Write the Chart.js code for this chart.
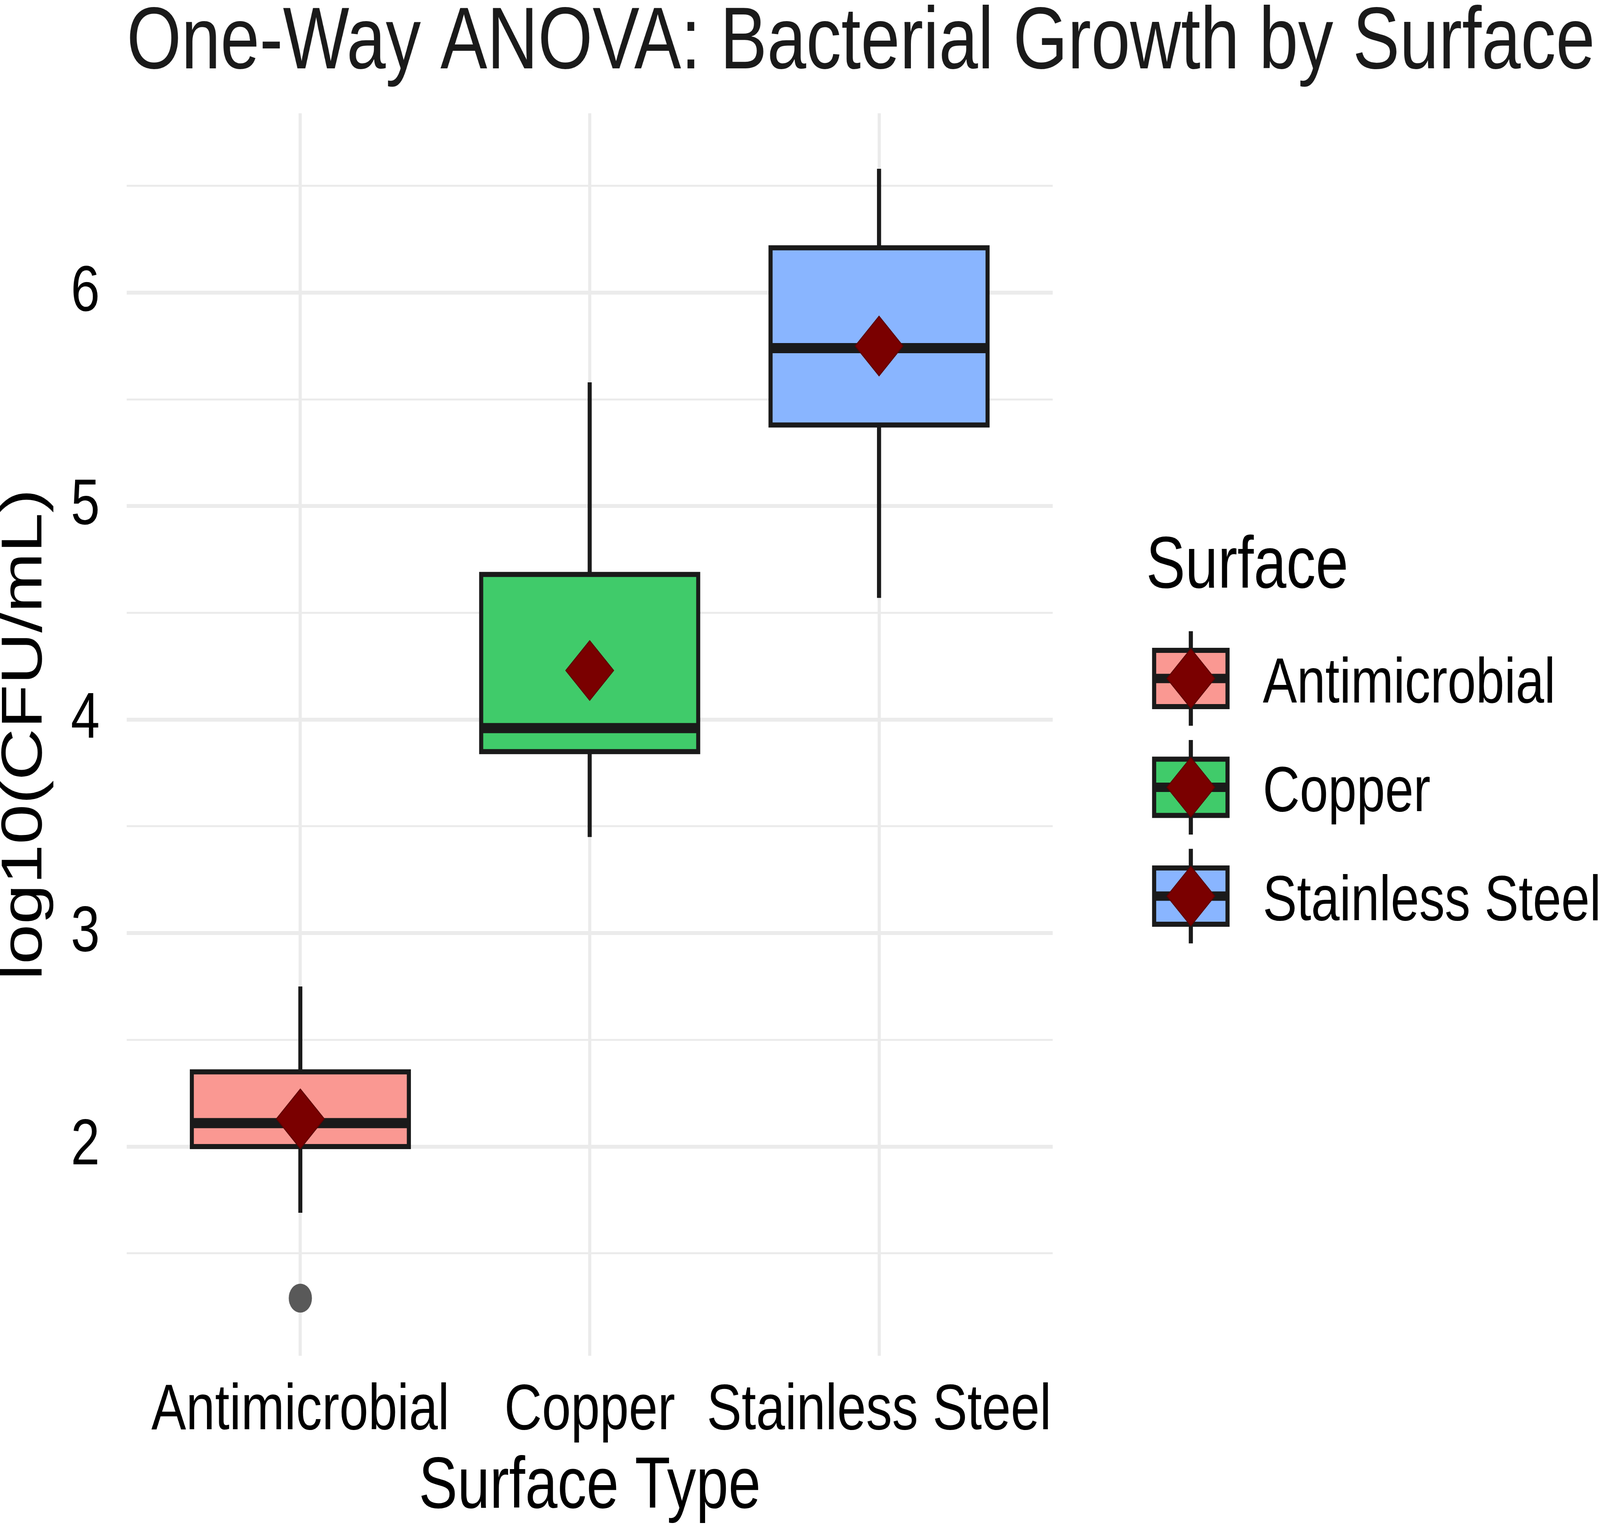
<!DOCTYPE html>
<html>
<head>
<meta charset="utf-8">
<title>One-Way ANOVA: Bacterial Growth by Surface</title>
<script src="https://cdn.jsdelivr.net/npm/chart.js@4.4.1/dist/chart.umd.min.js"></script>
<style>
  html, body { margin: 0; padding: 0; background: #ffffff; overflow: hidden; }
  #anovaChart {
    display: block;
    width: 100vw !important;
    height: 100vh !important;
  }
</style>
</head>
<body>
<canvas id="anovaChart" width="5101" height="3921"></canvas>
<script>
// 数据：三种表面的箱线图统计量
const categories = ['Antimicrobial', 'Copper', 'Stainless Steel'];
const whiskerLow = [1.69, 3.45, 4.57];
const q1Values = [2.00, 3.85, 5.38];
const medianValues = [2.11, 3.96, 5.74];
const q3Values = [2.35, 4.68, 6.21];
const whiskerHigh = [2.75, 5.58, 6.58];
const meanValues = [2.13, 4.23, 5.75];
const outlierCategories = ['Antimicrobial'];
const outlierValues = [1.29];

// 坐标轴刻度
const yTickValues = [1.5, 2, 2.5, 3, 3.5, 4, 4.5, 5, 5.5, 6, 6.5];
const yTickLabels = ['', '2', '', '3', '', '4', '', '5', '', '6', ''];

const fontFamily = '"Liberation Sans", Arial, Helvetica, sans-serif';
const fillColors = ['#FA9892', '#40CB6A', '#89B5FF'];
const lineColor = '#1a1a1a';
const meanColor = '#7A0000';
const BOX_WIDTH = 0.75;

Chart.defaults.font.family = fontFamily;

// 画一个菱形（均值标记，用于图例）
function drawDiamond(ctx, x, y, r) {
    ctx.beginPath();
    ctx.moveTo(x, y - r);
    ctx.lineTo(x + r, y);
    ctx.lineTo(x, y + r);
    ctx.lineTo(x - r, y);
    ctx.closePath();
    ctx.fillStyle = meanColor;
    ctx.fill();
    ctx.lineWidth = 3;
    ctx.strokeStyle = '#5E0000';
    ctx.stroke();
}

// 箱体、须线和中位数线
const boxplotPlugin = {
    id: 'boxplot',
    beforeDatasetsDraw(chart) {
        const { ctx } = chart;
        const xs = chart.scales.x;
        const ys = chart.scales.y;
        ctx.save();
        ctx.lineJoin = 'miter';
        ctx.lineCap = 'butt';
        categories.forEach((cat, i) => {
            const pos = i + 1;
            const cx = xs.getPixelForValue(pos);
            const left = xs.getPixelForValue(pos - BOX_WIDTH / 2);
            const right = xs.getPixelForValue(pos + BOX_WIDTH / 2);
            const top = ys.getPixelForValue(q3Values[i]);
            const bottom = ys.getPixelForValue(q1Values[i]);

            ctx.strokeStyle = lineColor;
            ctx.lineWidth = 13;
            ctx.beginPath();
            ctx.moveTo(cx, ys.getPixelForValue(whiskerHigh[i]));
            ctx.lineTo(cx, top);
            ctx.moveTo(cx, bottom);
            ctx.lineTo(cx, ys.getPixelForValue(whiskerLow[i]));
            ctx.stroke();

            ctx.fillStyle = fillColors[i];
            ctx.fillRect(left, top, right - left, bottom - top);
            ctx.strokeRect(left, top, right - left, bottom - top);

            const med = ys.getPixelForValue(medianValues[i]);
            ctx.lineWidth = 26;
            ctx.beginPath();
            ctx.moveTo(left, med);
            ctx.lineTo(right, med);
            ctx.stroke();
        });
        ctx.restore();
    }
};

// 标题和右侧图例
const legendPlugin = {
    id: 'surfaceLegend',
    afterDraw(chart) {
        const { ctx, chartArea } = chart;
        ctx.save();
        ctx.textAlign = 'left';
        ctx.textBaseline = 'alphabetic';

        ctx.fillStyle = '#1a1a1a';
        ctx.font = '224px ' + fontFamily;
        ctx.fillText('One-Way ANOVA: Bacterial Growth by Surface', chartArea.left, 175);

        ctx.fillStyle = '#000000';
        ctx.font = '187px ' + fontFamily;
        ctx.fillText('Surface', 3654, 1504);

        const keyX = 3796.5;
        const halfW = 117;
        const halfH = 72;
        categories.forEach((cat, i) => {
            const cy = 1736.5 + i * 278.5;
            ctx.strokeStyle = lineColor;
            ctx.lineCap = 'butt';
            ctx.lineWidth = 13;
            ctx.beginPath();
            ctx.moveTo(keyX, cy - 121);
            ctx.lineTo(keyX, cy + 121);
            ctx.stroke();
            ctx.fillStyle = fillColors[i];
            ctx.fillRect(keyX - halfW, cy - halfH, halfW * 2, halfH * 2);
            ctx.strokeRect(keyX - halfW, cy - halfH, halfW * 2, halfH * 2);
            ctx.lineWidth = 24;
            ctx.beginPath();
            ctx.moveTo(keyX - halfW, cy);
            ctx.lineTo(keyX + halfW, cy);
            ctx.stroke();
            drawDiamond(ctx, keyX, cy, 76);

            ctx.fillStyle = '#000000';
            ctx.font = '163px ' + fontFamily;
            ctx.fillText(cat, 4026, cy + 61);
        });
        ctx.restore();
    }
};

const chart = new Chart(document.getElementById('anovaChart').getContext('2d'), {
    type: 'scatter',
    data: {
        datasets: [
            {
                label: 'Mean',
                data: categories.map((c, i) => ({ x: i + 1, y: meanValues[i] })),
                pointStyle: 'rectRot',
                pointRadius: 76,
                pointHoverRadius: 76,
                backgroundColor: meanColor,
                borderColor: '#5E0000',
                borderWidth: 3,
                clip: false
            },
            {
                label: 'Outliers',
                data: outlierValues.map((v, i) => ({ x: categories.indexOf(outlierCategories[i]) + 1, y: v })),
                pointStyle: 'circle',
                pointRadius: 37,
                pointHoverRadius: 37,
                backgroundColor: '#595959',
                borderWidth: 0,
                clip: false
            }
        ]
    },
    options: {
        responsive: false,
        devicePixelRatio: 1,
        animation: false,
        events: [],
        layout: { padding: { top: 290, right: 1745, bottom: 0, left: 0 } },
        plugins: {
            legend: { display: false },
            tooltip: { enabled: false },
            title: { display: false }
        },
        scales: {
            x: {
                type: 'linear',
                min: 0.4,
                max: 3.6,
                afterBuildTicks: (scale) => {
                    scale.ticks = categories.map((c, i) => ({ value: i + 1 }));
                },
                afterFit: (scale) => { scale.height = 451; },
                grid: { color: '#EBEBEB', lineWidth: 10, drawTicks: false },
                border: { display: false },
                ticks: {
                    autoSkip: false,
                    maxRotation: 0,
                    padding: 43,
                    color: '#000000',
                    font: { size: 166, lineHeight: 1.2 },
                    callback: (value) => categories[Math.round(value) - 1]
                },
                title: {
                    display: true,
                    text: 'Surface Type',
                    color: '#000000',
                    font: { size: 185, lineHeight: 1.2 },
                    padding: { top: 0, bottom: 2 }
                }
            },
            y: {
                type: 'linear',
                min: 1.02,
                max: 6.84,
                afterBuildTicks: (scale) => {
                    scale.ticks = yTickValues.map(v => ({ value: v }));
                },
                afterFit: (scale) => { scale.width = 404; },
                grid: {
                    color: '#EBEBEB',
                    lineWidth: (c) => (c.tick && Number.isInteger(c.tick.value) ? 10 : 5),
                    drawTicks: false
                },
                border: { display: false },
                ticks: {
                    autoSkip: false,
                    padding: 86,
                    color: '#000000',
                    font: { size: 166, lineHeight: 1.2 },
                    callback: (value) => yTickLabels[yTickValues.indexOf(value)]
                },
                title: {
                    display: true,
                    text: 'log10(CFU/mL)',
                    color: '#000000',
                    font: { size: 184, lineHeight: 0.88 },
                    padding: { top: 0, bottom: 0 }
                }
            }
        }
    },
    plugins: [boxplotPlugin, legendPlugin]
});
</script>
</body>
</html>
